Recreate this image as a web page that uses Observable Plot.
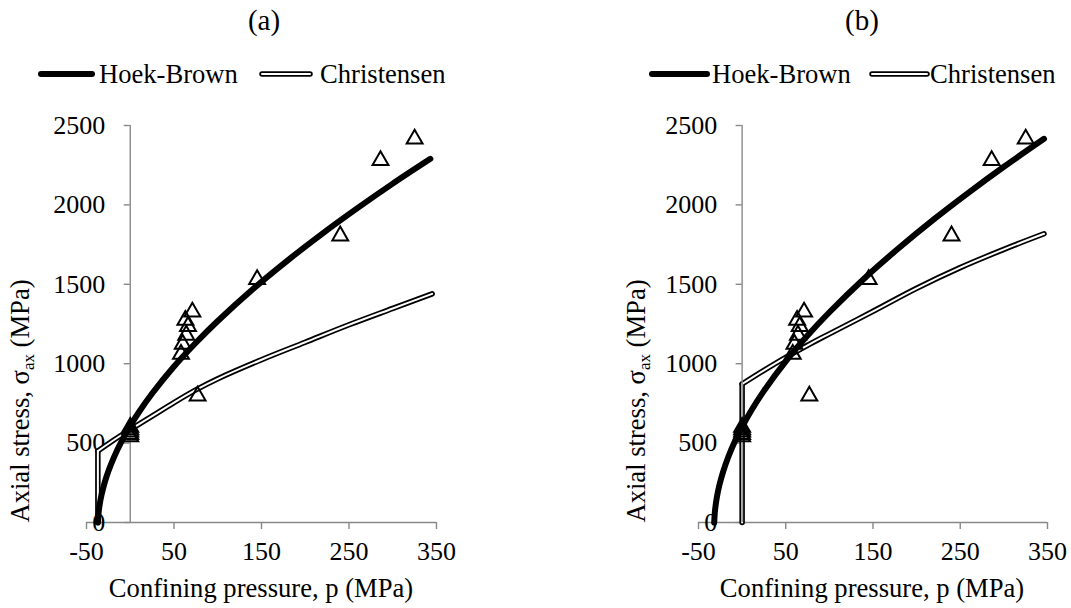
<!DOCTYPE html>
<html><head><meta charset="utf-8">
<script src="https://cdn.jsdelivr.net/npm/d3@7"></script>
<script src="https://cdn.jsdelivr.net/npm/@observablehq/plot@0.6"></script>
<style>
body{margin:0;background:#fff;}
#root{position:relative;width:1071px;height:608px;overflow:hidden;font-family:"Liberation Serif","Times New Roman",serif;}
#root svg.plot{position:absolute;top:100px;}
#overlay{position:absolute;left:0;top:0;pointer-events:none;}
</style></head>
<body><div id="root"></div>
<script>
// ---- data ----
const xTicks = [-50, 50, 150, 250, 350];
const yTicks = [0, 500, 1000, 1500, 2000, 2500];

// test results: confining pressure p (MPa), axial stress (MPa)
const testP = [0, 0, 0, 0, 0, 58, 60, 64, 66, 63, 71, 77, 145, 240, 286, 325];
const testS = [555, 570, 585, 600, 615, 1075, 1138, 1195, 1250, 1288, 1340, 812, 1545, 1820, 2295, 2430];

// panel (a)
const hbA_p = [-37, -36, -34, -31, -27, -22, -15, -7, 0, 10, 25, 50, 75, 100, 140, 180, 220, 260, 300, 343];
const hbA_s = [0, 70, 143, 216, 291, 366, 455, 541, 609, 696, 812, 982, 1132, 1269, 1469, 1651, 1821, 1981, 2134, 2290];
const chA_p = [-37, -37, -20, 0, 25, 50, 76, 100, 150, 200, 250, 300, 345];
const chA_s = [0, 450, 515, 585, 670, 755, 838, 905, 1025, 1135, 1245, 1348, 1440];

// panel (b)
const hbB_p = [-32, -31, -29, -26, -22, -16, -8, 0, 10, 25, 50, 75, 100, 140, 180, 220, 260, 300, 346];
const hbB_s = [0, 80, 158, 237, 316, 411, 515, 603, 701, 829, 1015, 1177, 1324, 1537, 1730, 1910, 2079, 2240, 2416];
const chB_p = [0, 0, 25, 50, 75, 100, 150, 200, 250, 300, 346];
const chB_s = [0, 872, 958, 1040, 1116, 1188, 1330, 1475, 1605, 1720, 1818];

const seriesNames = ["Hoek-Brown", "Christensen"];
const panelTitles = ["(a)", "(b)"];
const xTitle = "Confining pressure, p (MPa)";

// ---- helpers ----
const zip = (ps, ss) => ps.map((p, i) => ({p, s: ss[i]}));
// Christensen: vertical cut-off segment (first two points) + curved branch
const chSegments = (ps, ss) => {
  const pts = zip(ps, ss);
  return [
    ...pts.slice(0, 2).map(d => ({...d, seg: 0})),
    ...pts.slice(1).map(d => ({...d, seg: 1}))
  ];
};
const tests = zip(testP, testS);
const triangle = {
  draw(ctx, size) {
    const w = Math.sqrt(size) * 0.64, h = w * 0.87;
    ctx.moveTo(0, -h); ctx.lineTo(w, h); ctx.lineTo(-w, h); ctx.closePath();
  }
};
const AX = "#888888";

function panel(hb, ch, ml, mr) {
  return Plot.plot({
    width: 535, height: 508,
    marginLeft: ml, marginRight: mr, marginTop: 25, marginBottom: 86,
    x: {domain: [-50, 350], label: null},
    y: {domain: [0, 2500], label: null},
    style: {fontFamily: "Liberation Serif, Times New Roman, serif", fontSize: "26px", background: "transparent", color: "black", overflow: "visible"},
    marks: [
      Plot.ruleY([0], {stroke: AX, strokeWidth: 1.4}),
      Plot.axisX({ticks: xTicks, label: null, tickSize: 7, tickPadding: 12, stroke: AX, strokeWidth: 1.4, fontSize: 26, tickFormat: d => String(d)}),
      Plot.axisY({ticks: yTicks, label: null, anchor: "left", dx: 50 * (535 - ml - mr) / 400, tickSize: 6, tickPadding: 19, stroke: AX, strokeWidth: 1.4, fontSize: 26, tickFormat: d => String(d)}),
      Plot.line(ch, {x: "p", y: "s", z: "seg", curve: "catmull-rom", stroke: "black", strokeWidth: 5.5, strokeLinecap: "round", strokeLinejoin: "round"}),
      Plot.line(ch, {x: "p", y: "s", z: "seg", curve: "catmull-rom", stroke: "white", strokeWidth: 2, strokeLinecap: "round", strokeLinejoin: "round"}),
      Plot.ruleX([0], {y1: 0, y2: 2500, stroke: AX, strokeWidth: 1.4}),
      Plot.line(hb, {x: "p", y: "s", curve: "catmull-rom", stroke: "black", strokeWidth: 6, strokeLinecap: "round", strokeLinejoin: "round"}),
      Plot.dot(tests, {x: "p", y: "s", r: 7, symbol: triangle, stroke: "black", strokeWidth: 2, fill: "none"})
    ]
  });
}

const root = document.getElementById("root");
const pa = panel(zip(hbA_p, hbA_s), chSegments(chA_p, chA_s), 86, 99);
pa.classList.add("plot"); pa.style.left = "0px";
const pb = panel(zip(hbB_p, hbB_s), chSegments(chB_p, chB_s), 162, 24);
pb.classList.add("plot"); pb.style.left = "536px";
root.appendChild(pa); root.appendChild(pb);

// ---- overlay text: titles, legends, axis titles ----
const NS = "http://www.w3.org/2000/svg";
const ov = document.createElementNS(NS, "svg");
ov.setAttribute("id", "overlay"); ov.setAttribute("width", 1071); ov.setAttribute("height", 608);
ov.setAttribute("font-family", "Liberation Serif, Times New Roman, serif");
root.appendChild(ov);
function el(tag, attrs, parent = ov) {
  const e = document.createElementNS(NS, tag);
  for (const k in attrs) e.setAttribute(k, attrs[k]);
  parent.appendChild(e); return e;
}
function txt(x, y, s, size, anchor = "start", parent = ov) {
  const t = el("text", {x, y, "font-size": size, "text-anchor": anchor, fill: "black"}, parent);
  t.textContent = s; return t;
}
const layouts = [
  {title: 264, hb: [41, 92, 99], ch: [262, 310, 320], yt: 29, xc: 261},
  {title: 862, hb: [652, 707, 712], ch: [872, 927, 930], yt: 645, xc: 872}
];
layouts.forEach((L, i) => {
  txt(L.title, 30, panelTitles[i], 29, "middle");
  el("line", {x1: L.hb[0], x2: L.hb[1], y1: 74, y2: 74, stroke: "black", "stroke-width": 6, "stroke-linecap": "round"});
  txt(L.hb[2], 83, seriesNames[0], 26.6);
  el("line", {x1: L.ch[0], x2: L.ch[1], y1: 74, y2: 74, stroke: "black", "stroke-width": 5.5, "stroke-linecap": "round"});
  el("line", {x1: L.ch[0], x2: L.ch[1], y1: 74, y2: 74, stroke: "white", "stroke-width": 2, "stroke-linecap": "round"});
  txt(L.ch[2], 83, seriesNames[1], 26.6);
  txt(L.xc, 597, xTitle, 26.6, "middle");
  const g = el("g", {transform: `translate(${L.yt},401) rotate(-90)`});
  const t = el("text", {x: 0, y: 0, "font-size": 26.6, "text-anchor": "middle", fill: "black"}, g);
  const a = el("tspan", {}, t); a.textContent = "Axial stress, σ";
  const b = el("tspan", {dy: 5, "font-size": 17}, t); b.textContent = "ax";
  const c = el("tspan", {dy: -5}, t); c.textContent = " (MPa)";
});
</script></body></html>
